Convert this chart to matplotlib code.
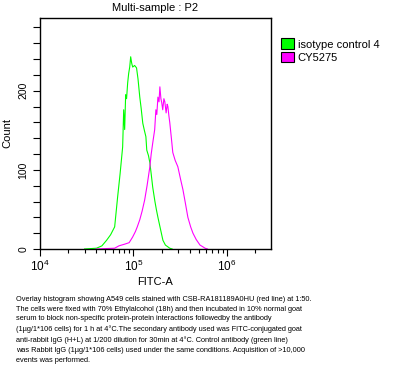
import matplotlib
matplotlib.use("Agg")
import matplotlib.pyplot as plt
from matplotlib.patches import Patch
from matplotlib.ticker import LogLocator, MultipleLocator, FuncFormatter

plt.rcParams['font.family'] = ['Liberation Sans', 'DejaVu Sans']

# isotype control (green line)
iso_fitc = [30000, 40300, 46000, 51600, 57000, 63000, 67800, 72000, 76700, 78700,
            80600, 82600, 84500, 86800, 89000, 91300, 93500, 95800, 98200, 103000,
            108000, 112000, 117000, 121000, 126000, 131000, 136000, 139000, 145000,
            150000, 155000, 161000, 170000, 176000, 183000, 195000, 207000, 220000,
            245000, 260000]
iso_count = [0, 1, 4, 11, 18, 28, 66, 95, 129, 176,
             151, 195, 190, 210, 222, 230, 243, 235, 230, 232,
             229, 215, 192, 178, 159, 150, 142, 125, 118,
             109, 95, 78, 60, 50, 40, 25, 11, 5,
             1, 0]

# CY5275 (magenta line)
cy_fitc = [40000, 63000, 70000, 80000, 90000, 98000, 105000, 110000, 117000, 124000,
           132000, 140000, 150000, 155000, 161000, 169000, 174000, 178000, 183000,
           188000, 192000, 197000, 201000, 206000, 212000, 217000, 224000, 230000,
           234000, 240000, 245000, 255000, 264000, 280000, 299000, 320000, 339000,
           360000, 383000, 410000, 434000, 470000, 516000, 550000, 585000, 620000]
cy_count = [0, 1, 4, 6, 8, 15, 22, 28, 37, 48,
            62, 80, 104, 120, 134, 151, 176, 170, 192,
            186, 205, 190, 185, 176, 190, 186, 172, 183,
            180, 168, 160, 140, 122, 112, 104, 88, 75,
            58, 40, 28, 20, 12, 5, 3, 1, 0]

labels = ["isotype control 4", "CY5275"]
colors = ["#00ff00", "#ff00ff"]

caption = ("Overlay histogram showing A549 cells stained with CSB-RA181189A0HU (red line) at 1:50.\n"
           "The cells were fixed with 70% Ethylalcohol (18h) and then incubated in 10% normal goat\n"
           "serum to block non-specific protein-protein interactions followedby the antibody\n"
           "(1\u00b5g/1*106 cells) for 1 h at 4\u00b0C.The secondary antibody used was FITC-conjugated goat\n"
           "anti-rabbit IgG (H+L) at 1/200 dilution for 30min at 4\u00b0C. Control antibody (green line)\n"
           "was Rabbit IgG (1\u00b5g/1*106 cells) used under the same conditions. Acquisition of >10,000\n"
           "events was performed.")

fig = plt.figure(figsize=(4.07, 3.77), dpi=100)
ax = fig.add_axes([40 / 407, 1 - 249 / 377, 231 / 407, 231 / 377])

ax.plot(iso_fitc, iso_count, color=colors[0], lw=0.8)
ax.plot(cy_fitc, cy_count, color=colors[1], lw=0.8)

ax.set_xscale('log')
ax.set_xlim(1e4, 10 ** 6.473)
ax.set_ylim(0, 292)

ax.xaxis.set_major_locator(LogLocator(base=10, numticks=10))
ax.xaxis.set_minor_locator(LogLocator(base=10, subs=range(2, 10), numticks=50))
ax.yaxis.set_major_locator(MultipleLocator(20))
ax.yaxis.set_major_formatter(FuncFormatter(lambda v, p: "%d" % v if v % 100 == 0 else ""))

ax.tick_params(axis='both', which='major', direction='out', length=5, width=0.8,
               labelsize=7.5, colors='black')
ax.tick_params(axis='x', which='minor', direction='out', length=3, width=0.8)
ax.tick_params(axis='x', which='major', labelsize=8.5, pad=2)
for lab in ax.get_yticklabels():
    lab.set_rotation(90)
    lab.set_va('center')
for s in ax.spines.values():
    s.set_linewidth(1.0)

ax.set_title("Multi-sample : P2", fontsize=8, pad=5)
ax.set_xlabel("FITC-A", fontsize=8, labelpad=2)
ax.set_ylabel("Count", fontsize=8, labelpad=4)

handles = [Patch(facecolor=c, edgecolor='black', lw=0.8) for c in colors]
fig.legend(handles, labels, loc='upper left', bbox_to_anchor=(277 / 407, 1 - 34 / 377),
           frameon=False, fontsize=8, handlelength=1.1, handleheight=1.1,
           handletextpad=0.35, labelspacing=0.2, borderaxespad=0)

fig.text(16 / 407, 1 - 296 / 377, caption, fontsize=5.3, va='top', ha='left',
         linespacing=1.55)

fig.savefig("out.png", dpi=100)
